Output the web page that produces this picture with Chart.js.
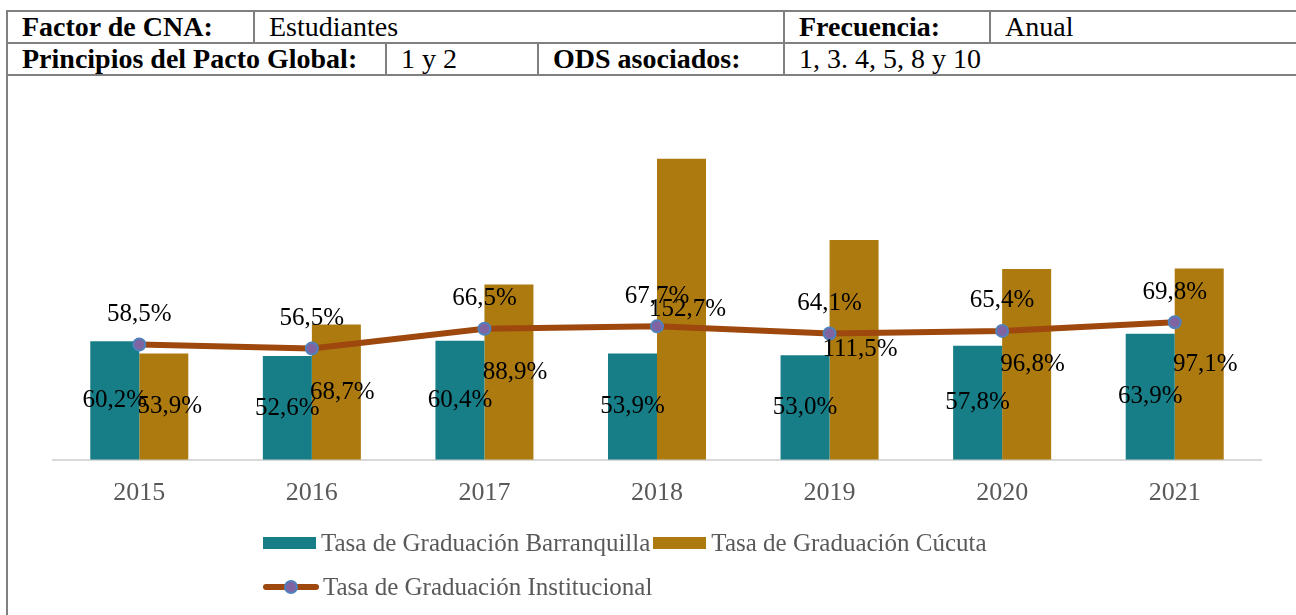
<!DOCTYPE html>
<html>
<head>
<meta charset="utf-8">
<script src="https://cdn.jsdelivr.net/npm/chart.js@4"></script>
<style>
html,body{margin:0;padding:0;background:#fff;width:1296px;height:615px;overflow:hidden;font-family:"Liberation Serif",serif;}
.cell{position:absolute;box-sizing:border-box;border:2px solid #808080;height:34px;font-family:"Liberation Serif",serif;font-size:28px;line-height:30px;padding-left:14px;white-space:nowrap;color:#000;}
.b{font-weight:bold;}
#box{position:absolute;left:6px;top:74px;width:1400px;height:600px;box-sizing:border-box;border:2px solid #808080;}
#chart{position:absolute;left:0;top:0;}
.lg{position:absolute;left:263px;display:flex;align-items:center;height:30px;font-family:"Liberation Serif",serif;font-size:25px;color:#595959;white-space:nowrap;}
.lg .it{display:flex;align-items:center;margin-right:3px;font-family:"Liberation Serif",serif;}
.lg .sw{display:inline-block;width:53px;height:12px;margin-right:5px;}
.lg .ln{position:relative;display:inline-block;width:56px;height:6px;border-radius:3px;margin-right:4px;}
.lg .ln i{position:absolute;left:21px;top:-4px;width:10px;height:10px;border-radius:50%;border:2px solid #4F81BD;background:#8064A2;}
</style>
</head>
<body>
<div class="cell b" style="left:6px;top:10px;width:249px;">Factor de CNA:</div>
<div class="cell" style="left:253px;top:10px;width:532px;">Estudiantes</div>
<div class="cell b" style="left:783px;top:10px;width:208px;">Frecuencia:</div>
<div class="cell" style="left:989px;top:10px;width:400px;">Anual</div>
<div class="cell b" style="left:6px;top:42px;width:381px;">Principios del Pacto Global:</div>
<div class="cell" style="left:385px;top:42px;width:154px;">1 y 2</div>
<div class="cell b" style="left:537px;top:42px;width:248px;">ODS asociados:</div>
<div class="cell" style="left:783px;top:42px;width:600px;">1, 3. 4, 5, 8 y 10</div>
<div id="box"></div>
<canvas id="chart" width="1296" height="615"></canvas>
<div class="lg" id="lg1" style="top:528px;"></div>
<div class="lg" id="lg2" style="top:572px;"></div>
<script>
const years = ["2015", "2016", "2017", "2018", "2019", "2020", "2021"];
const barranquilla = [60.2, 52.6, 60.4, 53.9, 53.0, 57.8, 63.9];
const cucuta = [53.9, 68.7, 88.9, 152.7, 111.5, 96.8, 97.1];
const institucional = [58.5, 56.5, 66.5, 67.7, 64.1, 65.4, 69.8];

const $ = (id) => document.getElementById(id);
const fmt = (v) => v.toFixed(1).replace(".", ",") + "%";

Chart.defaults.font.family = '"Liberation Serif", serif';

// etiquetas de valor sobre barras y puntos
const valueLabels = {
  id: "valueLabels",
  afterDatasetsDraw(chart){
    const ctx = chart.ctx;
    ctx.save();
    ctx.font = '25px "Liberation Serif", serif';
    ctx.fillStyle = "#000";
    ctx.textAlign = "center";
    ctx.textBaseline = "middle";
    chart.data.datasets.forEach((ds, i) => {
      const meta = chart.getDatasetMeta(i);
      meta.data.forEach((el, j) => {
        const txt = fmt(ds.data[j]);
        if(ds.type === "line") ctx.fillText(txt, el.x, el.y - 30);
        else if(i === 1) ctx.fillText(txt, el.x + 6, (el.y + el.base) / 2);
        else ctx.fillText(txt, el.x, (el.y + el.base) / 2);
      });
    });
    ctx.restore();
  }
};

const chart = new Chart($("chart"), {
  data: {
    labels: years,
    datasets: [
      {type:"bar", label:"Tasa de Graduación Barranquilla", data:barranquilla,
       backgroundColor:"#177E87", order:1},
      {type:"bar", label:"Tasa de Graduación Cúcuta", data:cucuta,
       backgroundColor:"#AD7A10", order:1},
      {type:"line", label:"Tasa de Graduación Institucional", data:institucional,
       borderColor:"#9E480E", borderWidth:6, tension:0,
       pointRadius:6, pointBackgroundColor:"#8064A2", pointBorderColor:"#4F81BD", pointBorderWidth:2,
       order:0}
    ]
  },
  options: {
    responsive:false,
    animation:false,
    layout:{padding:{left:53, right:35, top:105, bottom:88}},
    datasets:{bar:{categoryPercentage:0.568, barPercentage:1}},
    scales:{
      x:{
        grid:{color:"transparent", drawTicks:false},
        border:{display:true, color:"#D9D9D9", width:2},
        ticks:{color:"#595959", font:{size:26}, padding:18}
      },
      y:{display:false, min:0, max:180}
    },
    plugins:{legend:{display:false}, tooltip:{enabled:false}}
  },
  plugins:[valueLabels]
});

// leyenda estilo Excel (filas alineadas a la izquierda)
function legendItem(ds){
  const it = document.createElement("span");
  it.className = "it";
  let sym;
  if(ds.type === "line"){
    sym = document.createElement("span");
    sym.className = "ln";
    sym.style.background = ds.borderColor;
    sym.appendChild(document.createElement("i"));
  } else {
    sym = document.createElement("span");
    sym.className = "sw";
    sym.style.background = ds.backgroundColor;
  }
  const t = document.createElement("span");
  t.textContent = ds.label;
  it.appendChild(sym);
  it.appendChild(t);
  return it;
}
const dss = chart.data.datasets;
$("lg1").appendChild(legendItem(dss[0]));
$("lg1").appendChild(legendItem(dss[1]));
$("lg2").appendChild(legendItem(dss[2]));
</script>
</body>
</html>
